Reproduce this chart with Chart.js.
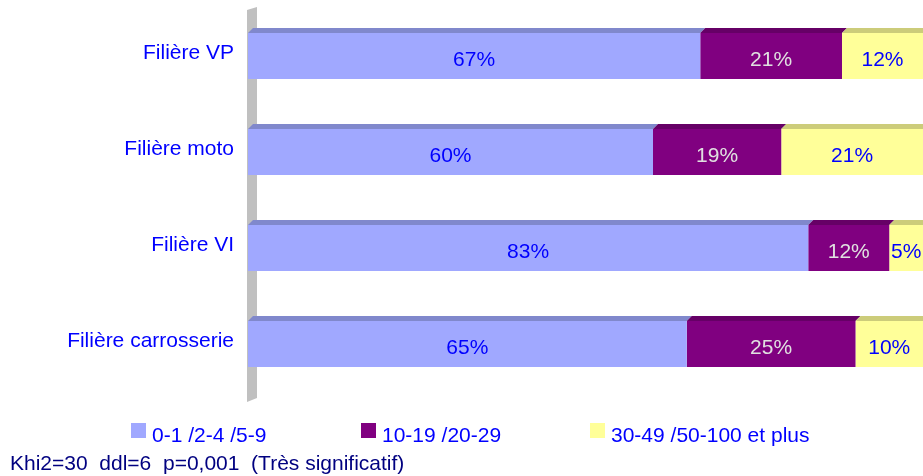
<!DOCTYPE html>
<html>
<head>
<meta charset="utf-8">
<script src="https://cdn.jsdelivr.net/npm/chart.js@4"></script>
<style>
  body { margin: 0; background: #fff; }
  #wrap { position: relative; width: 923px; height: 476px; }
</style>
</head>
<body>
<div id="wrap"><canvas id="chart"></canvas></div>
<script>
// data
const categories = ["Filière VP", "Filière moto", "Filière VI", "Filière carrosserie"];
const seriesNames = ["0-1 /2-4 /5-9", "10-19 /20-29", "30-49 /50-100 et plus"];
const small = [67, 60, 83, 65];
const medium = [21, 19, 12, 25];
const large = [12, 21, 5, 10];
const footnote = "Khi2=30  ddl=6  p=0,001  (Très significatif)";

const fronts = ["#a0a8ff", "#800080", "#ffff99"];
const tops = ["#8088cc", "#660066", "#cccc7a"];
const labelColors = ["#0000ff", "#e0e0e0", "#0000ff"];
const legendX = [131, 361, 590];
const FONT = "Liberation Sans, Arial, sans-serif";

/* fake 3D: grey wall on the left and a top face on every bar */
const depth = {
  id: "depth",
  beforeDatasetsDraw(chart) {
    const { ctx, chartArea: a } = chart;
    ctx.save();
    ctx.fillStyle = "#c0c0c0";
    ctx.beginPath();
    ctx.moveTo(a.left - 1, a.top + 2);
    ctx.lineTo(a.left + 9, a.top - 1);
    ctx.lineTo(a.left + 9, a.bottom + 6);
    ctx.lineTo(a.left - 1, a.bottom + 10);
    ctx.closePath();
    ctx.fill();
    ctx.restore();
  },
  afterDatasetsDraw(chart) {
    const { ctx } = chart;
    const d = 5;
    ctx.save();
    chart.data.datasets.forEach((ds, i) => {
      const meta = chart.getDatasetMeta(i);
      meta.data.forEach((el, j) => {
        const top = el.y - el.height / 2;
        const x0 = Math.min(el.base, el.x), x1 = Math.max(el.base, el.x);
        ctx.fillStyle = tops[i];
        ctx.beginPath();
        ctx.moveTo(x0, top);
        ctx.lineTo(x1, top);
        ctx.lineTo(x1 + d, top - d);
        ctx.lineTo(x0 + d, top - d);
        ctx.closePath();
        ctx.fill();

        ctx.fillStyle = labelColors[i];
        ctx.font = "21px " + FONT;
        ctx.textAlign = "center";
        ctx.textBaseline = "middle";
        ctx.fillText(ds.data[j] + "%", (x0 + x1) / 2, el.y + 4);
      });
    });
    ctx.restore();
  },
  afterDraw(chart) {
    const { ctx } = chart;
    ctx.save();
    ctx.font = "21px " + FONT;
    ctx.textBaseline = "middle";
    chart.data.datasets.forEach((ds, i) => {
      ctx.fillStyle = fronts[i];
      ctx.fillRect(legendX[i], 423, 15, 15);
      ctx.fillStyle = "#0000ff";
      ctx.fillText(ds.label, legendX[i] + 21, 436);
    });
    ctx.fillStyle = "#000080";
    ctx.fillText(footnote, 10, 464);
    ctx.restore();
  }
};

const ctx = document.getElementById("chart").getContext("2d");

new Chart(ctx, {
  type: "bar",
  data: {
    labels: categories,
    datasets: [
      { label: seriesNames[0], data: small, backgroundColor: fronts[0] },
      { label: seriesNames[1], data: medium, backgroundColor: fronts[1] },
      { label: seriesNames[2], data: large, backgroundColor: fronts[2] }
    ]
  },
  options: {
    indexAxis: "y",
    responsive: true,
    maintainAspectRatio: false,
    animation: false,
    barPercentage: 0.48,
    categoryPercentage: 1,
    layout: { padding: { top: 8, bottom: 84, left: 0, right: 0 } },
    scales: {
      x: { stacked: true, min: 0, max: 100, display: false },
      y: {
        stacked: true,
        grid: { display: false, drawTicks: false },
        border: { display: false },
        ticks: { color: "#0000ff", font: { size: 21, family: FONT }, padding: 14, labelOffset: -3 },
        afterFit(scale) {
          scale.width = 248;
          scale.paddingTop = 0;
          scale.paddingBottom = 0;
        }
      }
    },
    plugins: {
      legend: { display: false },
      tooltip: { enabled: false }
    }
  },
  plugins: [depth]
});
</script>
</body>
</html>
